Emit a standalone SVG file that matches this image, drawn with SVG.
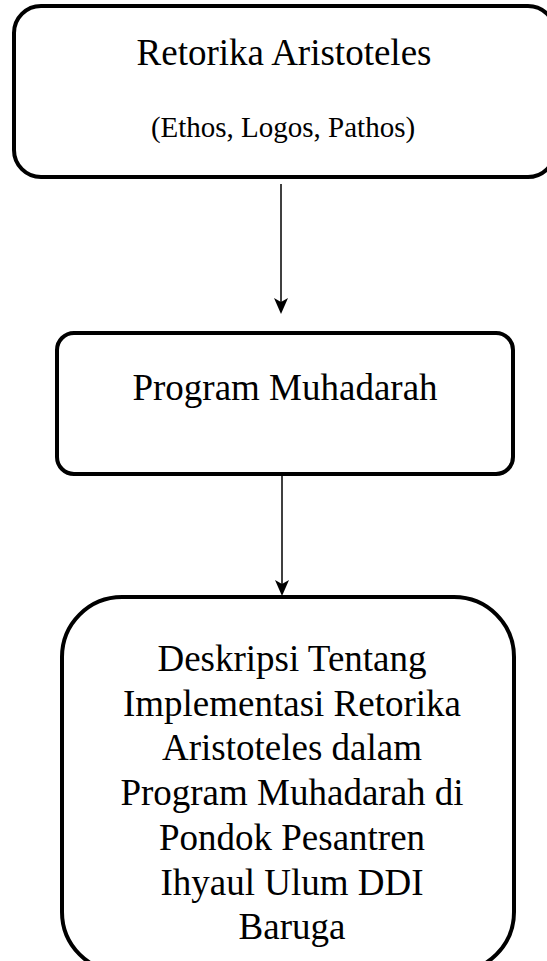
<svg xmlns="http://www.w3.org/2000/svg" width="547" height="961" viewBox="0 0 547 961">
<style>
.box{fill:#fff;stroke:#000;stroke-width:4}
.t{font-family:"Liberation Serif","Times New Roman",serif;fill:#000;text-anchor:middle}
.big{font-size:37px}
.small{font-size:29px}
.line{stroke:#000;stroke-width:1.5;fill:none}
.head{fill:#000}
</style>
<rect width="547" height="961" fill="#fff"/>
<g id="node-retorika">
<rect class="box" x="14" y="6" width="541" height="171" rx="27" ry="27"/>
<text class="t big" x="284" y="65">Retorika Aristoteles</text>
<text class="t small" x="283" y="137">(Ethos, Logos, Pathos)</text>
</g>
<g id="node-program">
<rect class="box" x="57" y="333" width="456" height="141" rx="17" ry="17"/>
<text class="t big" x="285" y="400">Program Muhadarah</text>
</g>
<g id="node-deskripsi">
<rect class="box" x="62" y="597" width="452" height="375" rx="60" ry="60"/>
<text class="t big" x="292" y="671">Deskripsi Tentang</text>
<text class="t big" x="292" y="715.7">Implementasi Retorika</text>
<text class="t big" x="292" y="760.4">Aristoteles dalam</text>
<text class="t big" x="292" y="805">Program Muhadarah di</text>
<text class="t big" x="292" y="849.8">Pondok Pesantren</text>
<text class="t big" x="292" y="894.5">Ihyaul Ulum DDI</text>
<text class="t big" x="292" y="939.2">Baruga</text>
</g>
<g id="connectors">
<line class="line" x1="281" y1="184" x2="281" y2="302"/>
<path class="head" d="M281,314 L274,298 L281,302 L288,298 Z"/>
<line class="line" x1="282" y1="476" x2="282" y2="584"/>
<path class="head" d="M282,596 L275,580 L282,584 L289,580 Z"/>
</g>
</svg>
